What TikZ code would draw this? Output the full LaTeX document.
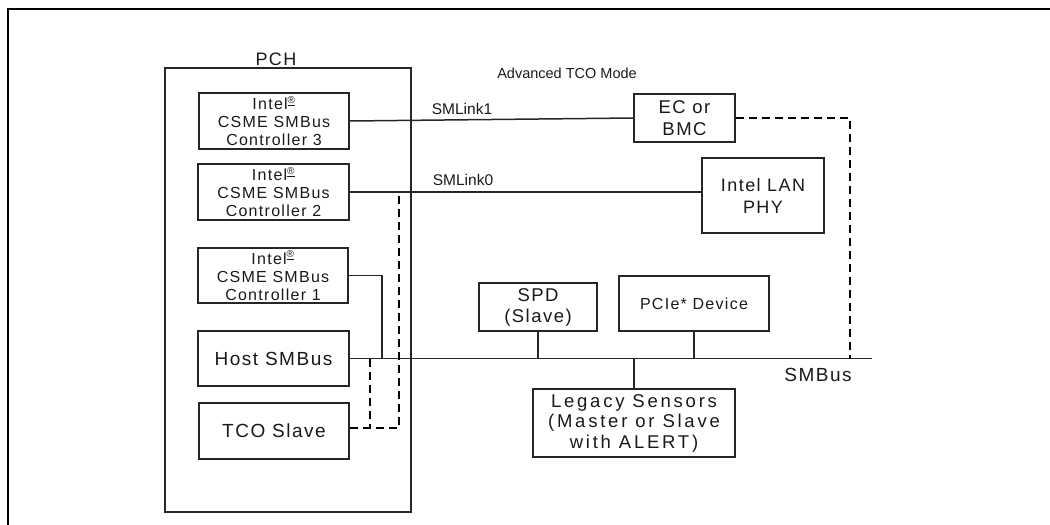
\documentclass[tikz,border=0pt]{standalone}
\usepackage{fontspec}
\setmainfont{Liberation Sans}[LetterSpace=8]
\newcommand\regmark{\textsuperscript{\underline{\fontsize{10}{10}\selectfont ®}}}
\newcommand\wider{\addfontfeatures{LetterSpace=15}}
\newcommand\tighter{\addfontfeatures{LetterSpace=0}}
\begin{document}
\begin{tikzpicture}[x=1pt,y=-1pt,
  box/.style={draw=black!85,line width=1.5pt,rectangle,inner sep=0pt,align=center,text=black!90},
  wire/.style={draw=black!85,line width=1.5pt},
  dwire/.style={draw=black,line width=2.4pt,dash pattern=on 8pt off 5pt},
  lbl/.style={anchor=base,inner sep=0pt,text=black!90}]
\useasboundingbox (0,0) rectangle (1050,525);
\draw[line width=2.5pt] (1050,9) -- (8,9) -- (8,525);
% PCH
\node[box,minimum width=246,minimum height=444] (pch) at (288,290) {};
\node[lbl,font=\fontsize{18}{21}\selectfont] (pchl) at (276,65) {PCH};
\node[lbl,font=\fontsize{14.5}{16}\selectfont\tighter] (adv) at (567,78) {Advanced TCO Mode};
% controllers
\node[box,minimum width=150,minimum height=56,font=\fontsize{16}{18}\selectfont] (c3) at (274,121) {Intel\regmark\\CSME SMBus\\Controller 3};
\node[box,minimum width=151,minimum height=56,font=\fontsize{16}{18}\selectfont] (c2) at (273.5,192) {Intel\regmark\\CSME SMBus\\Controller 2};
\node[box,minimum width=150,minimum height=55,font=\fontsize{16}{18}\selectfont] (c1) at (273,275.5) {Intel\regmark\\CSME SMBus\\Controller 1};
\node[box,minimum width=151,minimum height=55,font=\fontsize{19}{22}\selectfont] (host) at (273.5,358.5) {Host SMBus};
\node[box,minimum width=150,minimum height=56,font=\fontsize{19}{22}\selectfont] (tco) at (274,431) {TCO Slave};
% right side devices
\node[box,minimum width=101,minimum height=48,font=\fontsize{18.5}{22}\selectfont] (ec) at (684.5,118) {EC or\\BMC};
\node[box,minimum width=122,minimum height=75,font=\fontsize{18}{22}\selectfont] (lan) at (763,195.5) {Intel LAN\\PHY};
\node[box,minimum width=118,minimum height=48,font=\fontsize{18.5}{21}\selectfont] (spd) at (538,307) {SPD\\(Slave)};
\node[box,minimum width=150,minimum height=55,font=\fontsize{16}{19}\selectfont] (pcie) at (694,303.5) {PCIe* Device};
\node[box,minimum width=202,minimum height=68,font=\fontsize{18.5}{20.5}\selectfont\wider] (leg) at (634,423) {Legacy Sensors\\(Master or Slave\\with ALERT)};
% labels
\node[lbl,font=\fontsize{15.5}{17}\selectfont\tighter] (sml1) at (462,114) {SMLink1};
\node[lbl,font=\fontsize{15.5}{17}\selectfont\tighter] (sml0) at (463,185) {SMLink0};
\node[lbl,font=\fontsize{19}{22}\selectfont] (smb) at (818,381) {SMBus};
% bus coordinates
\coordinate (busend) at (872,358.5);
\coordinate (c1j) at (382,358.5);
\coordinate (ecj) at (850,118);
\coordinate (ecb) at (850,358.5);
\coordinate (tcoj) at (399,428);
\coordinate (tcoj2) at (370,428);
\coordinate (hostj) at (370,358.5);
% wires
\draw[wire] (c3.east) -- (ec.west);
\draw[wire] (c2.east) -- (c2.east -| lan.west);
\draw[wire] (host.east) -- (busend);
\draw[wire] (c1.east) -| (c1j);
\draw[wire] (spd.south) -- (spd.south |- busend);
\draw[wire] (pcie.south) -- (pcie.south |- busend);
\draw[wire] (leg.north) -- (leg.north |- busend);
% dashed
\draw[dwire] (ec.east) -- (ecj) -- (ecb);
\draw[dwire] (tco.east |- tcoj) -- (tcoj) -- (tcoj |- c2.east);
\draw[dwire] (hostj) -- (tcoj2);
\end{tikzpicture}
\end{document}
